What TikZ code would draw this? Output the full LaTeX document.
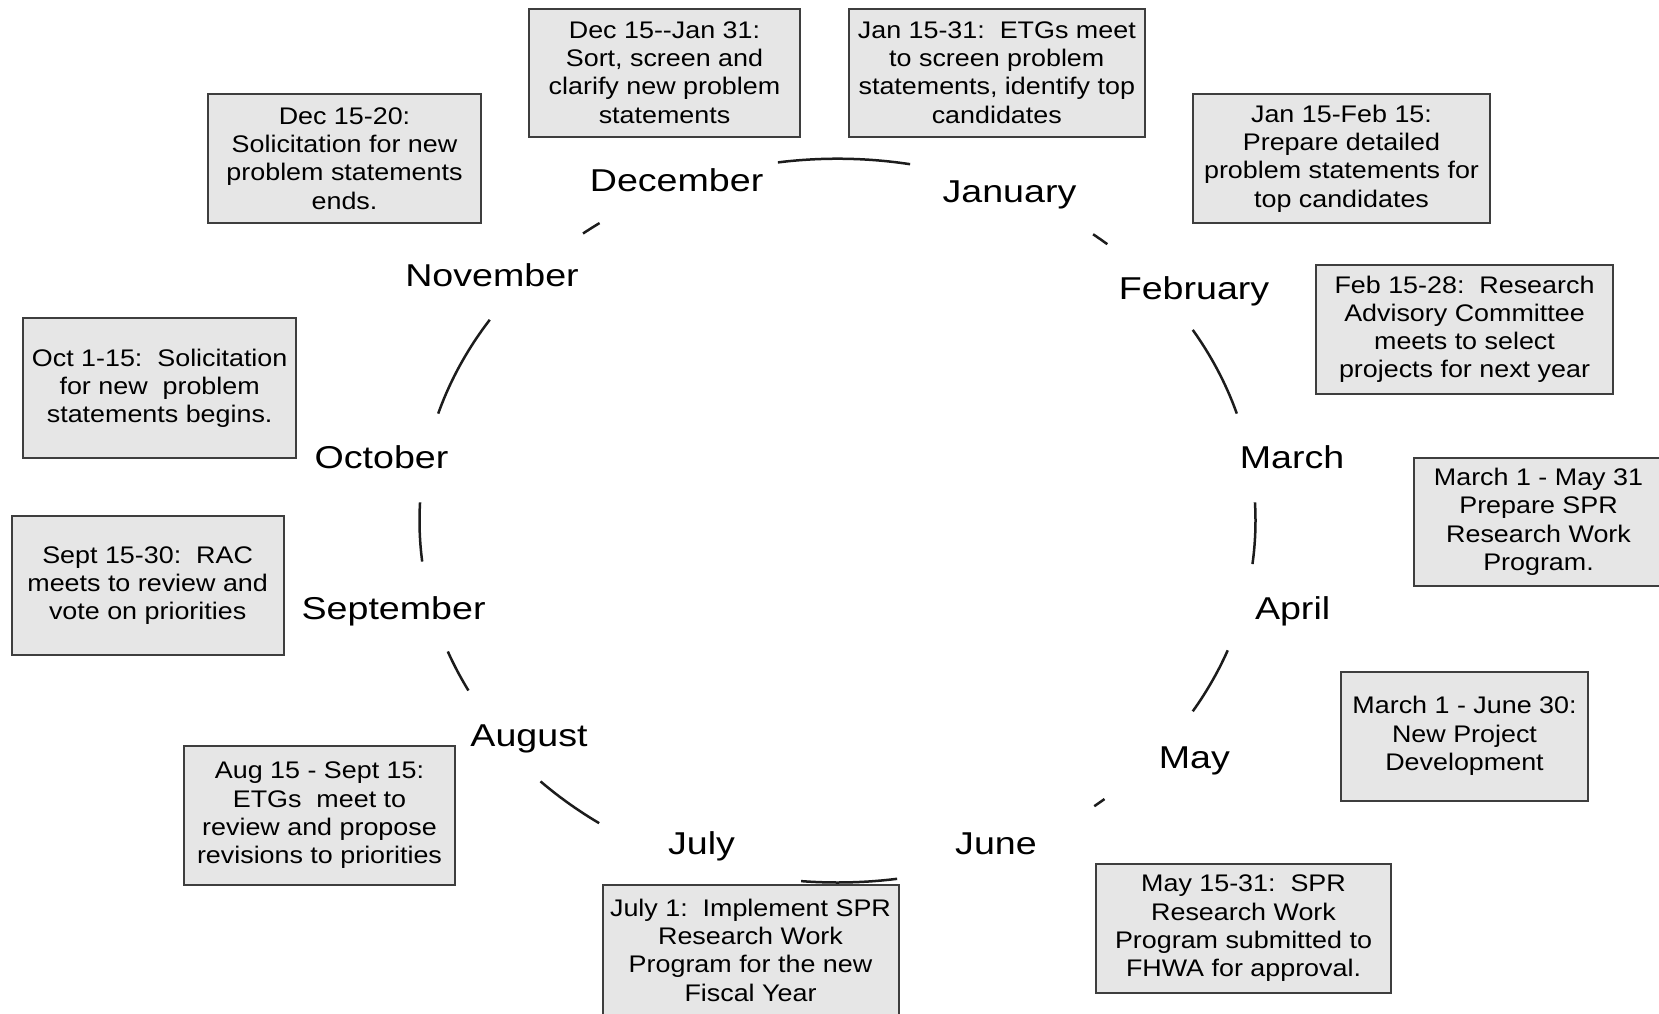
\documentclass[tikz,border=0pt]{standalone}
\usepackage{fontspec}
\newfontfamily\boxfont[FakeStretch=1.12]{Liberation Sans}
\newfontfamily\monthfont[FakeStretch=1.19]{Liberation Sans}
\definecolor{boxfill}{RGB}{230,230,230}
\definecolor{boxline}{RGB}{62,62,62}
\definecolor{ringline}{RGB}{28,28,28}
\tikzset{
  box/.style={draw=boxline, fill=boxfill, line width=1pt, rectangle, align=center,
    inner sep=0pt, font=\boxfont\fontsize{12pt}{14.15pt}\selectfont},
  month/.style={anchor=base, inner sep=0pt, font=\monthfont\fontsize{15.8pt}{18pt}\selectfont},
  ring/.style={draw=ringline, line width=1.25pt}
}
\newcommand{\ringarc}[3]{%
  \draw[ring] plot[domain=#1:#2, samples=30, smooth]
    ({837.5+#3*418*cos(\x)}, {520.6-#3*361.9*sin(\x)});}
\begin{document}
\begin{tikzpicture}[x=0.5pt, y=-0.5pt]
\useasboundingbox (0,0) rectangle (1659,1013);
\clip (0,0) rectangle (1659,1013);

% ring segments
\coordinate (ringcentre) at (837.5,520.6);
\ringarc{124.7}{127.5}{1}
\ringarc{80}{98.2}{1}
\ringarc{49.8}{52.3}{1}
\ringarc{17.2}{31.8}{1}
\ringarc{-6.9}{2.9}{1}
\ringarc{-31.8}{-21}{1}
\ringarc{-52.1}{-50.3}{1}
\ringarc{-95}{-81.8}{1}
\ringarc{-134.6}{-124.3}{1.012}
\ringarc{-158.8}{-152}{1}
\ringarc{177.1}{186.5}{1}
\ringarc{146.3}{162.8}{1}

% month labels
\node[month] (dec) at (676.6,191.5) {December};
\node[month] (jan) at (1009.5,202) {January};
\node[month] (feb) at (1194,299.5) {February};
\node[month] (mar) at (1292,468.7) {March};
\node[month] (apr) at (1292.6,619) {April};
\node[month] (may) at (1194.3,768) {May};
\node[month] (jun) at (996,854) {June};
\node[month] (jul) at (701.5,854) {July};
\node[month] (aug) at (529,746) {August};
\node[month] (sep) at (393.6,619) {September};
\node[month] (oct) at (381.5,468.7) {October};
\node[month] (nov) at (492,286.5) {November};

% event boxes
\node[box, minimum width=136.5pt, minimum height=64.5pt] (b1) at (344.5,158.5)
  {Dec 15-20:\\Solicitation for new\\problem statements\\ends.};
\node[box, minimum width=135.5pt, minimum height=64pt] (b2) at (664.5,72.5)
  {Dec 15-{}-Jan 31:\\Sort, screen and\\clarify new problem\\statements};
\node[box, minimum width=148.2pt, minimum height=64pt] (b3) at (996.8,72.5)
  {Jan 15-31:\ \ ETGs meet\\to screen problem\\statements, identify top\\candidates};
\node[box, minimum width=148.5pt, minimum height=64.5pt] (b4) at (1341.5,158.5)
  {Jan 15-Feb 15:\\Prepare detailed\\problem statements for\\top candidates};
\node[box, minimum width=148.5pt, minimum height=64.25pt] (b5) at (1464.5,329.25)
  {Feb 15-28:\ \ Research\\Advisory Committee\\meets to select\\projects for next year};
\node[box, minimum width=124.5pt, minimum height=64.25pt] (b6) at (1538.5,521.75)
  {March 1 - May 31\\Prepare SPR\\Research Work\\Program.};
\node[box, minimum width=123.5pt, minimum height=64.5pt] (b7) at (1464.5,736)
  {March 1 - June 30:\\New Project\\Development};
\node[box, minimum width=147.5pt, minimum height=64.5pt] (b8) at (1243.5,928.5)
  {May 15-31:\ \ SPR\\Research Work\\Program submitted to\\FHWA for approval.};
\node[box, minimum width=148pt, minimum height=65pt] (b9) at (750.5,950)
  {July 1:\ \ Implement SPR\\Research Work\\Program for the new\\Fiscal Year};
\node[box, minimum width=135.5pt, minimum height=69.25pt] (b10) at (319.5,815.25)
  {Aug 15 - Sept 15:\\ETGs\ \ meet to\\review and propose\\revisions to priorities};
\node[box, minimum width=136pt, minimum height=69.5pt] (b11) at (147.65,585.5)
  {Sept 15-30:\ \ RAC\\meets to review and\\vote on priorities};
\node[box, minimum width=136.3pt, minimum height=70pt] (b12) at (159.65,388.3)
  {Oct 1-15:\ \ Solicitation\\for new\ \ problem\\statements begins.};
\end{tikzpicture}
\end{document}
